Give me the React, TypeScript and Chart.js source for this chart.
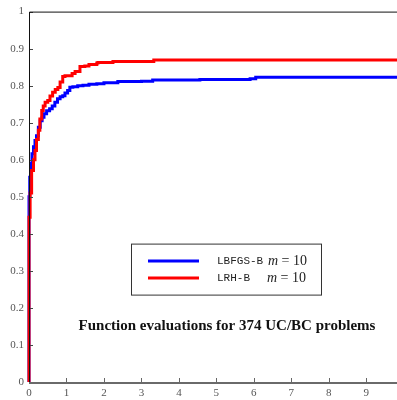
import React, { useEffect, useRef } from "react";
import { Chart, registerables } from "chart.js";

Chart.register(...registerables);

const LBFGS_X = [0, 0, 0.02, 0.05, 0.08, 0.12, 0.16, 0.2, 0.25, 0.3, 0.35, 0.4, 0.47, 0.55, 0.62, 0.69, 0.76, 0.83, 0.9, 0.96, 1.03, 1.09, 1.17, 1.3, 1.44, 1.6, 1.81, 2.0, 2.37, 3.0, 3.3, 4.56, 5.9, 6.05, 9.0, 9.82];
const LBFGS_Y = [0, 0.44, 0.5, 0.553, 0.59, 0.616, 0.635, 0.652, 0.665, 0.688, 0.705, 0.715, 0.724, 0.732, 0.738, 0.745, 0.755, 0.765, 0.77, 0.773, 0.78, 0.787, 0.796, 0.797, 0.8, 0.801, 0.804, 0.805, 0.808, 0.811, 0.812, 0.815, 0.817, 0.819, 0.823, 0.823];

const LRH_X = [0, 0, 0.03, 0.07, 0.12, 0.16, 0.2, 0.25, 0.29, 0.34, 0.38, 0.43, 0.5, 0.56, 0.63, 0.7, 0.77, 0.83, 0.9, 0.96, 1.15, 1.23, 1.36, 1.49, 1.6, 1.81, 1.84, 2.24, 3.33, 6.83, 9.82];
const LRH_Y = [0, 0.43, 0.445, 0.51, 0.571, 0.6, 0.625, 0.655, 0.68, 0.71, 0.733, 0.745, 0.755, 0.76, 0.772, 0.782, 0.79, 0.795, 0.81, 0.825, 0.827, 0.833, 0.838, 0.852, 0.853, 0.857, 0.861, 0.8625, 0.865, 0.869, 0.869];

const X_TICKS = [0, 1, 2, 3, 4, 5, 6, 7, 8, 9];
const Y_TICKS = [0, 0.1, 0.2, 0.3, 0.4, 0.5, 0.6, 0.7, 0.8, 0.9, 1];
const X_MAX = 9.82;

const SERIES_NAMES = ["LBFGS-B", "LRH-B"];
const SERIES_M = ["m = 10", "m = 10"];
const TITLE = "Function evaluations for 374 UC/BC problems";

const toPoints = (xs: number[], ys: number[]) => xs.map((x, i) => ({ x, y: ys[i] }));

const framePlugin = {
  id: "frame",
  afterDraw(chart: any) {
    const { ctx, chartArea: a, scales } = chart;
    const xs = scales.x;
    const ys = scales.y;
    ctx.save();
    // ticks
    ctx.strokeStyle = "#444";
    ctx.lineWidth = 1;
    Y_TICKS.forEach((v) => {
      const y = Math.round(ys.getPixelForValue(v)) + 0.5;
      ctx.beginPath();
      ctx.moveTo(a.left, y);
      ctx.lineTo(a.left + 4, y);
      ctx.stroke();
    });
    ctx.strokeStyle = "#666";
    X_TICKS.forEach((v) => {
      const x = Math.round(xs.getPixelForValue(v)) + 0.5;
      ctx.beginPath();
      ctx.moveTo(x, a.bottom);
      ctx.lineTo(x, a.bottom - 4);
      ctx.stroke();
    });
    // top & left border
    ctx.strokeStyle = "#111";
    ctx.lineWidth = 1;
    ctx.beginPath();
    ctx.moveTo(a.right, a.top + 0.5);
    ctx.lineTo(a.left + 0.5, a.top + 0.5);
    ctx.lineTo(a.left + 0.5, a.bottom);
    ctx.stroke();
    // bottom axis
    ctx.strokeStyle = "#6a6a6a";
    ctx.lineWidth = 2;
    ctx.beginPath();
    ctx.moveTo(a.left, a.bottom + 1);
    ctx.lineTo(a.right, a.bottom + 1);
    ctx.stroke();

    // legend box
    const bx = a.left + 102;
    const by = a.top + 232;
    const bw = 190;
    const bh = 51;
    ctx.fillStyle = "#fff";
    ctx.fillRect(bx, by, bw, bh);
    ctx.strokeStyle = "#333";
    ctx.lineWidth = 1;
    ctx.strokeRect(bx + 0.5, by + 0.5, bw, bh);
    const colors = ["#0000ff", "#ff0000"];
    const rows = [by + 17.5, by + 34.5];
    rows.forEach((ry, i) => {
      ctx.strokeStyle = colors[i];
      ctx.lineWidth = 3;
      ctx.beginPath();
      ctx.moveTo(bx + 17, ry);
      ctx.lineTo(bx + 68, ry);
      ctx.stroke();
      ctx.fillStyle = "#222";
      ctx.textBaseline = "middle";
      ctx.textAlign = "left";
      ctx.font = "11px 'Liberation Mono'";
      ctx.fillText(SERIES_NAMES[i], bx + 86, ry);
      const mx = bx + (i === 0 ? 137 : 136);
      ctx.font = "italic 14px 'Liberation Serif'";
      ctx.fillText("m", mx, ry);
      const mw = ctx.measureText("m").width;
      ctx.font = "14px 'Liberation Serif'";
      ctx.fillText(SERIES_M[i].slice(1), mx + mw, ry);
    });

    // title text
    ctx.fillStyle = "#111";
    ctx.font = "bold 15px 'Liberation Serif'";
    ctx.textAlign = "center";
    ctx.textBaseline = "middle";
    ctx.fillText(TITLE, a.left + 198, a.top + 315);
    ctx.restore();
  },
};

export default function App() {
  const ref = useRef<HTMLCanvasElement>(null);
  useEffect(() => {
    const chart = new Chart(ref.current as HTMLCanvasElement, {
      type: "line",
      data: {
        datasets: [
          {
            label: SERIES_NAMES[0],
            data: toPoints(LBFGS_X, LBFGS_Y),
            borderColor: "#0000ff",
            borderWidth: 3,
            pointRadius: 0,
            stepped: "after",
            fill: false,
            order: 2,
            clip: 6,
          } as any,
          {
            label: SERIES_NAMES[1],
            data: toPoints(LRH_X, LRH_Y),
            borderColor: "#ff0000",
            borderWidth: 3,
            pointRadius: 0,
            stepped: "after",
            fill: false,
            order: 1,
            clip: 6,
          } as any,
        ],
      },
      options: {
        animation: false,
        responsive: false,
        devicePixelRatio: 1,
        layout: { padding: { top: 11, right: 0, left: 0, bottom: 0 } },
        plugins: { legend: { display: false }, tooltip: { enabled: false }, title: { display: false } },
        scales: {
          x: {
            type: "linear",
            min: 0,
            max: X_MAX,
            grid: { display: false, drawTicks: false },
            border: { display: false },
            afterBuildTicks: (s: any) => {
              s.ticks = X_TICKS.map((v) => ({ value: v }));
            },
            afterFit: (s: any) => {
              s.height = 18;
            },
            ticks: {
              padding: 5,
              color: "#555",
              font: { family: "'Liberation Serif'", size: 11 },
              callback: (v: any) => String(v),
              maxRotation: 0,
              autoSkip: false,
            },
          },
          y: {
            type: "linear",
            min: 0,
            max: 1,
            grid: { display: false, drawTicks: false },
            border: { display: false },
            afterBuildTicks: (s: any) => {
              s.ticks = Y_TICKS.map((v) => ({ value: v }));
            },
            afterFit: (s: any) => {
              s.width = 29;
            },
            ticks: {
              padding: 5,
              color: "#555",
              font: { family: "'Liberation Serif'", size: 11 },
              callback: (v: any) => String(v),
              autoSkip: false,
            },
          },
        },
      },
      plugins: [framePlugin],
    });
    return () => chart.destroy();
  }, []);
  return (
    <div style={{ position: "absolute", left: 0, top: 0, width: 397, height: 400, background: "#fff" }}>
      <canvas ref={ref} width={397} height={400} />
    </div>
  );
}
